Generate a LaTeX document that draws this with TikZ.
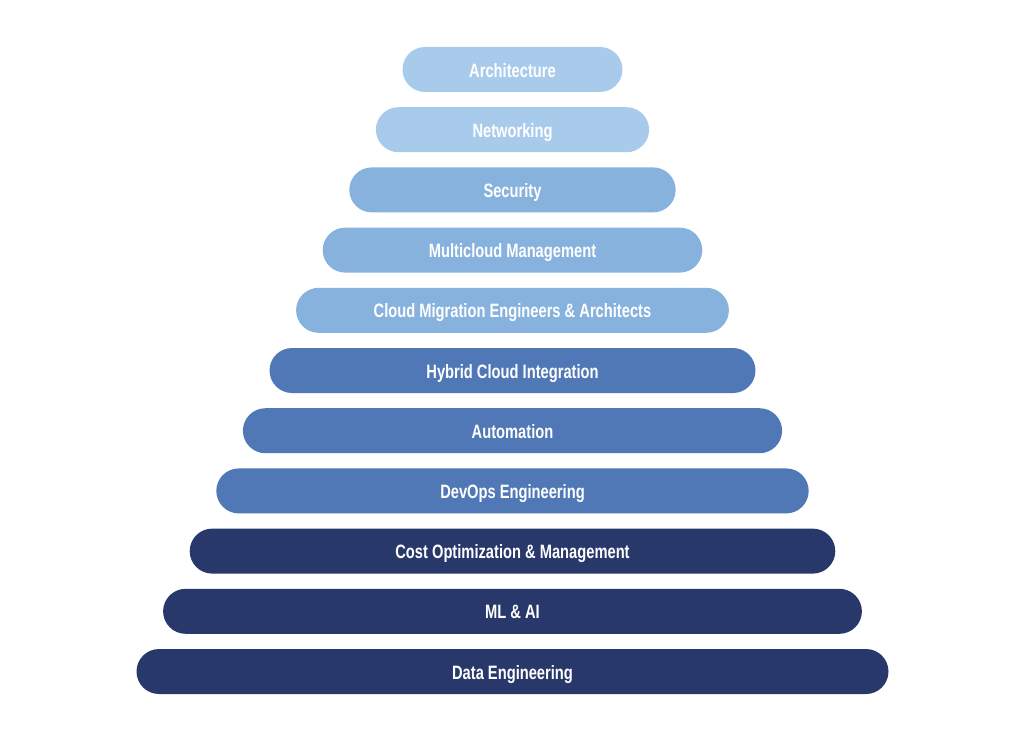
\documentclass[tikz,border=0pt]{standalone}
\usepackage{fontspec}
\setmainfont{Liberation Sans}[FakeStretch=0.76]
\usepackage{tikz}
\usetikzlibrary{positioning}
\definecolor{tierpale}{RGB}{169,203,235}
\definecolor{tiersky}{RGB}{135,178,222}
\definecolor{tierblue}{RGB}{80,120,182}
\definecolor{tiernavy}{RGB}{41,56,107}
\tikzset{
  tier/.style={rounded corners=.45cm, minimum height=.9cm, inner sep=0pt, text height=.9em, text depth=.04em, text=white, font=\bfseries\fontsize{11}{13}\selectfont},
  tierpalebox/.style={tier, fill=tierpale},
  tierskybox/.style={tier, fill=tiersky},
  tierbluebox/.style={tier, fill=tierblue},
  tiernavybox/.style={tier, fill=tiernavy}
}
\begin{document}
\begin{tikzpicture}[node distance=.29cm]
  \useasboundingbox (0,0) rectangle (20.48,-14.84);
  \node[tierpalebox, minimum width=4.4cm] (arch) at (10.25,-1.39) {Architecture};
  \node[tierpalebox, below=of arch, minimum width=5.464cm] (net) {Networking};
  \node[tierskybox, below=of net, minimum width=6.528cm] (sec) {Security};
  \node[tierskybox, below=of sec, minimum width=7.592cm] (multi) {Multicloud Management};
  \node[tierskybox, below=of multi, minimum width=8.656cm] (migr) {Cloud Migration Engineers \& Architects};
  \node[tierbluebox, below=of migr, minimum width=9.72cm] (hybrid) {Hybrid Cloud Integration};
  \node[tierbluebox, below=of hybrid, minimum width=10.784cm] (auto) {Automation};
  \node[tierbluebox, below=of auto, minimum width=11.848cm] (devops) {DevOps Engineering};
  \node[tiernavybox, below=of devops, minimum width=12.912cm] (cost) {Cost Optimization \& Management};
  \node[tiernavybox, below=of cost, minimum width=13.976cm] (mlai) {ML \& AI};
  \node[tiernavybox, below=of mlai, minimum width=15.04cm] (data) {Data Engineering};
\end{tikzpicture}
\end{document}
